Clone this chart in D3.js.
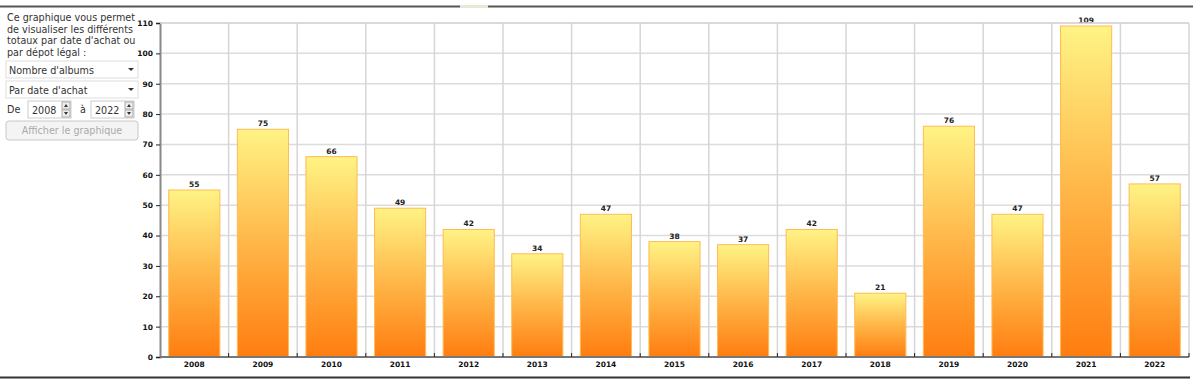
<!DOCTYPE html>
<html>
<head>
<meta charset="utf-8">
<script src="https://cdn.jsdelivr.net/npm/d3@7"></script>
<style>
  body { margin: 0; background: #fff; }
  svg { display: block; }
  .panel text { font-family: "DejaVu Sans", Verdana, sans-serif; font-size: 9.6px; fill: #333; }
  .tick text { font-family: "DejaVu Sans", Verdana, sans-serif; font-size: 7.5px; font-weight: bold; fill: #111; }
  .val { font-family: "DejaVu Sans", Verdana, sans-serif; font-size: 7.5px; font-weight: bold; fill: #222; }
</style>
</head>
<body>
<svg id="chart"></svg>
<script>
var width = 1200,
	height = 390;

// data
var years = ["2008", "2009", "2010", "2011", "2012", "2013", "2014", "2015", "2016", "2017", "2018", "2019", "2020", "2021", "2022"];
var albums = [55, 75, 66, 49, 42, 34, 47, 38, 37, 42, 21, 76, 47, 109, 57];
var yTicks = [0, 10, 20, 30, 40, 50, 60, 70, 80, 90, 100, 110];
var introLines = ["Ce graphique vous permet", "de visualiser les différents", "totaux par date d'achat ou", "par dépot légal :"];

var margin = { left: 160, right: 11, top: 23, bottom: 33 };

var svg = d3.select("#chart").attr("width", width).attr("height", height);

// frame lines
svg.append("line").attr("x1", 0).attr("x2", 1193).attr("y1", 6.5).attr("y2", 6.5)
	.style("stroke", "#555").style("stroke-width", 2);
svg.append("rect").attr("x", 460).attr("y", 5).attr("width", 28).attr("height", 3).style("fill", "#e8e8d8");
svg.append("line").attr("x1", 0).attr("x2", 1190).attr("y1", 377.5).attr("y2", 377.5)
	.style("stroke", "#333").style("stroke-width", 2);

// left panel
var panel = svg.append("g").attr("class", "panel");
panel.selectAll("text.intro")
	.data(introLines)
	.enter()
	.append("text")
	.attr("class", "intro")
	.attr("x", 7)
	.attr("y", function (d, i) { return 21 + i * 11.5; })
	.text(function (d) { return d; });

function dropdown(y, label) {
	var g = panel.append("g").attr("transform", "translate(6," + y + ")");
	g.append("rect").attr("width", 132).attr("height", 17).style("fill", "#fff").style("stroke", "#ddd");
	g.append("text").attr("x", 3).attr("y", 12.5).text(label);
	g.append("path").attr("d", "M122,7L128,7L125,10Z").style("fill", "#333");
}
dropdown(61, "Nombre d'albums");
dropdown(81, "Par date d'achat");

panel.append("text").attr("x", 7).attr("y", 113).text("De");
panel.append("text").attr("x", 80).attr("y", 113).text("à");
function spinner(x, val) {
	var g = panel.append("g").attr("transform", "translate(" + x + ",101)");
	g.append("rect").attr("width", 43).attr("height", 17).style("fill", "#fff").style("stroke", "#ccc");
	g.append("text").attr("x", 4).attr("y", 12.5).text(val);
	g.append("rect").attr("x", 34).attr("y", 1).attr("width", 8).attr("height", 7).style("fill", "#eee").style("stroke", "#aaa");
	g.append("rect").attr("x", 34).attr("y", 9).attr("width", 8).attr("height", 7).style("fill", "#eee").style("stroke", "#aaa");
	g.append("path").attr("d", "M36,6L40,6L38,3Z M36,11L40,11L38,14Z").style("fill", "#333");
}
spinner(28, "2008");
spinner(91, "2022");

var btn = panel.append("g").attr("transform", "translate(6,121)");
btn.append("rect").attr("width", 132).attr("height", 19).attr("rx", 3)
	.style("fill", "#f4f4f4").style("stroke", "#c8c8c8");
btn.append("text").attr("x", 66).attr("y", 13).attr("text-anchor", "middle")
	.style("fill", "#aaa").text("Afficher le graphique");

// scales
var x = d3.scaleBand()
	.domain(years)
	.range([margin.left, width - margin.right])
	.paddingInner(0.24)
	.paddingOuter(0.12);

var y = d3.scaleLinear()
	.domain([0, 110])
	.range([height - margin.bottom, margin.top]);

var step = x.step();
var x0 = margin.left, x1 = width - margin.right;

// gradient
var defs = svg.append("defs");
var grad = defs.append("linearGradient")
	.attr("id", "barGrad")
	.attr("x1", 0).attr("y1", 0).attr("x2", 0).attr("y2", 1);
grad.append("stop").attr("offset", "0%").attr("stop-color", "#fff385");
grad.append("stop").attr("offset", "50%").attr("stop-color", "#ffb648");
grad.append("stop").attr("offset", "100%").attr("stop-color", "#ff7d10");

// grid
svg.append("g")
	.selectAll("line")
	.data(yTicks.slice(1))
	.enter()
	.append("line")
	.attr("x1", x0).attr("x2", x1)
	.attr("y1", function (d) { return y(d); })
	.attr("y2", function (d) { return y(d); })
	.style("stroke", "#dcdcdc").style("stroke-width", 1.5);

svg.append("g")
	.selectAll("line")
	.data(years)
	.enter()
	.append("line")
	.attr("x1", function (d, i) { return x0 + step * (i + 1); })
	.attr("x2", function (d, i) { return x0 + step * (i + 1); })
	.attr("y1", y(110)).attr("y2", y(0))
	.style("stroke", "#d6d6d6").style("stroke-width", 1.5);

// bars
svg.append("g")
	.selectAll("rect")
	.data(albums)
	.enter()
	.append("rect")
	.attr("x", function (d, i) { return x(years[i]) + 0.5; })
	.attr("y", function (d) { return y(d); })
	.attr("width", x.bandwidth() - 1)
	.attr("height", function (d) { return y(0) - y(d); })
	.style("fill", "url(#barGrad)")
	.style("stroke", "#ffbb55")
	.style("stroke-width", 1);

// value labels
svg.append("g")
	.selectAll("text")
	.data(albums)
	.enter()
	.append("text")
	.attr("class", "val")
	.attr("x", function (d, i) { return x(years[i]) + x.bandwidth() / 2; })
	.attr("y", function (d) { return y(d) - 3; })
	.attr("text-anchor", "middle")
	.text(function (d) { return d; });

// axes
var yAxis = svg.append("g")
	.attr("transform", "translate(" + x0 + ",0)")
	.call(d3.axisLeft(y).tickValues(yTicks).tickSize(4).tickPadding(3));
yAxis.select(".domain").style("stroke", "#888").style("stroke-width", 2);
yAxis.selectAll(".tick line").style("stroke", "#222");

var xAxis = svg.append("g")
	.attr("transform", "translate(0," + y(0) + ")")
	.call(d3.axisBottom(x).tickSize(0).tickPadding(5));
xAxis.select(".domain").attr("d", "M" + x0 + ",0H" + x1).style("stroke", "#777").style("stroke-width", 2);

// small ticks at category boundaries
svg.append("g")
	.selectAll("line")
	.data(years)
	.enter()
	.append("line")
	.attr("x1", function (d, i) { return x0 + step * (i + 1); })
	.attr("x2", function (d, i) { return x0 + step * (i + 1); })
	.attr("y1", y(0) - 4).attr("y2", y(0))
	.style("stroke", "#222");

// top border of plot
svg.append("line").attr("x1", x0).attr("x2", x1).attr("y1", y(110)).attr("y2", y(110))
	.style("stroke", "#d6d6d6").style("stroke-width", 1.5);
</script>
</body>
</html>
